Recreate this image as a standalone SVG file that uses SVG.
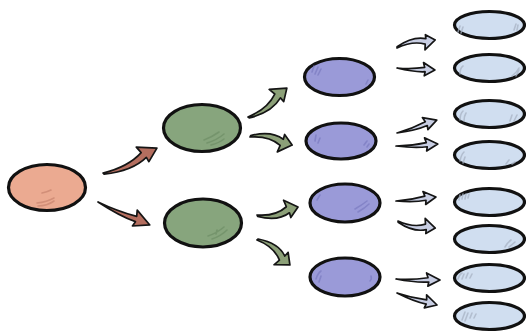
<svg xmlns="http://www.w3.org/2000/svg" xmlns:xlink="http://www.w3.org/1999/xlink" width="526" height="332" viewBox="0 0 526 332">
<style>
.node{stroke:#111;stroke-width:3.2}
.o{fill:#EBAA91}
.g{fill:#87A57D}
.p{fill:#9A9AD8}
.b{fill:#D0DEF0}
.ar use{stroke:#151515;stroke-width:1.7;stroke-linejoin:round}
.ao{fill:#B46E5F}
.ag{fill:#8CA078}
.ab{fill:#C8CEE3}
.hatch{fill:none;stroke-width:1.6;stroke-linecap:round;opacity:0.75}
.ho{stroke:#C98670}
.hg{stroke:#6F8F67}
.hp{stroke:#7C7CC2}
.hb{stroke:#A8B3C4}
</style>
<defs>
<path id="arrowC" vector-effect="non-scaling-stroke" d="M0,0 C14,3 28,3 40,-2.5 L38,-9.5 L55,0 L43,9 L42.5,4 C28,9.5 14,6.5 0.5,1.5 Z"/>
<path id="arrowS" vector-effect="non-scaling-stroke" d="M0,0 C15,0.5 28,-0.5 40,-2.5 L38,-8.5 L55,0 L40,8 L41,2.8 C28,4 15,2.5 0,0 Z"/>
</defs>

<g id="connectors" class="ar">
  <use xlink:href="#arrowC" class="ao" transform="translate(103,173) rotate(-24.8) scale(1.08,1)"/>
  <use xlink:href="#arrowS" class="ao" transform="translate(98,202) rotate(23.9) scale(1.03,1)"/>
  <use xlink:href="#arrowC" class="ag" transform="translate(248,117) rotate(-36.6) scale(0.88,1)"/>
  <use xlink:href="#arrowC" class="ag" transform="translate(250,137) rotate(10.8) scale(0.78,-1)"/>
  <use xlink:href="#arrowC" class="ag" transform="translate(257,215) rotate(-11) scale(0.76,1)"/>
  <use xlink:href="#arrowC" class="ag" transform="translate(257,240) rotate(37.1) scale(0.75,-1)"/>
  <use xlink:href="#arrowC" class="ab" transform="translate(397,48) rotate(-11.9) scale(0.71,-0.8)"/>
  <use xlink:href="#arrowS" class="ab" transform="translate(397,68) rotate(3) scale(0.69,0.8)"/>
  <use xlink:href="#arrowS" class="ab" transform="translate(397,133) rotate(-18) scale(0.76,0.8)"/>
  <use xlink:href="#arrowS" class="ab" transform="translate(396,146) rotate(-2.7) scale(0.76,0.8)"/>
  <use xlink:href="#arrowS" class="ab" transform="translate(396,201) rotate(-5.7) scale(0.73,0.8)"/>
  <use xlink:href="#arrowC" class="ab" transform="translate(398,221) rotate(10.7) scale(0.69,0.8)"/>
  <use xlink:href="#arrowS" class="ab" transform="translate(396,279) rotate(1.3) scale(0.8,0.8)"/>
  <use xlink:href="#arrowS" class="ab" transform="translate(397,293) rotate(16.7) scale(0.76,0.8)"/>
</g>

<g id="root">
  <ellipse class="node o" cx="47" cy="187.5" rx="38.5" ry="23"/>
  <path class="hatch ho" d="M42,193 q5,-1 9,-3 M37,203 q10,-1 17,-5 M38,206 q9,0 16,-5"/>
</g>

<g id="g1">
  <ellipse class="node g" cx="202" cy="128" rx="38.5" ry="23.5"/>
  <path class="hatch hg" d="M204,140 q8,-3 15,-8 M207,143 q10,-3 17,-9 M211,145 q8,-2 13,-6"/>
</g>
<g id="g2">
  <ellipse class="node g" cx="203" cy="223" rx="38.5" ry="24"/>
  <path class="hatch hg" d="M208,236 q9,-3 16,-9 M212,239 q9,-3 15,-9 M216,234 l1,-4"/>
</g>

<g id="p1">
  <ellipse class="node p" cx="339.5" cy="77" rx="35" ry="18.5"/>
  <path class="hatch hp" d="M312,72 l2,-6 M315,74 l3,-7 M318,75 l3,-6 M366,84 l2,-4"/>
</g>
<g id="p2">
  <ellipse class="node p" cx="341" cy="141" rx="35" ry="18"/>
  <path class="hatch hp" d="M315,141 l1,-6 M318,143 l2,-5 M364,145 l3,-4 M367,147 l2,-3"/>
</g>
<g id="p3">
  <ellipse class="node p" cx="345" cy="203" rx="35" ry="19"/>
  <path class="hatch hp" d="M317,200 l3,-5 M355,209 q7,-4 12,-8 M358,212 q7,-4 11,-8"/>
</g>
<g id="p4">
  <ellipse class="node p" cx="345" cy="277" rx="35" ry="19"/>
  <path class="hatch hp" d="M316,279 q2,-6 5,-8 M319,282 l2,-6 M370,281 q2,-2 1,-5"/>
</g>

<g id="b1">
  <ellipse class="node b" cx="489.5" cy="25" rx="35" ry="13.5"/>
  <path class="hatch hb" d="M458,32 l2,-6 M461,33 l2,-6 M514,30 l2,-6 M517,30 l1,-5"/>
</g>
<g id="b2">
  <ellipse class="node b" cx="489.5" cy="68" rx="35" ry="13.5"/>
  <path class="hatch hb" d="M460,74 q0,-6 3,-8 M512,76 q5,-4 7,-8 M516,76 l3,-6"/>
</g>
<g id="b3">
  <ellipse class="node b" cx="489.5" cy="114" rx="35" ry="13.5"/>
  <path class="hatch hb" d="M460,120 q0,-6 3,-9 M464,121 q0,-5 2,-8 M510,121 l2,-6 M514,121 l3,-6"/>
</g>
<g id="b4">
  <ellipse class="node b" cx="489.5" cy="155" rx="35" ry="13.5"/>
  <path class="hatch hb" d="M460,161 q1,-6 4,-9 M463,163 l2,-6 M506,164 l3,-4 M512,164 l3,-2"/>
</g>
<g id="b5">
  <ellipse class="node b" cx="489.5" cy="202" rx="35" ry="13.5"/>
  <path class="hatch hb" d="M459,200 l1,-5 M462,199 l1,-5 M465,199 l1,-5 M468,198 l1,-4"/>
</g>
<g id="b6">
  <ellipse class="node b" cx="489.5" cy="239" rx="35" ry="13.5"/>
  <path class="hatch hb" d="M505,247 q3,-5 6,-7 M509,247 q4,-3 6,-5"/>
</g>
<g id="b7">
  <ellipse class="node b" cx="489.5" cy="278" rx="35" ry="13.5"/>
  <path class="hatch hb" d="M458,279 q2,-5 4,-6 M462,279 l2,-5 M466,278 l2,-5 M470,278 l2,-4"/>
</g>
<g id="b8">
  <ellipse class="node b" cx="489.5" cy="316" rx="35" ry="13.5"/>
  <path class="hatch hb" d="M462,320 l3,-8 M465,321 l3,-8 M470,318 l2,-5 M474,318 l2,-4"/>
</g>
</svg>
